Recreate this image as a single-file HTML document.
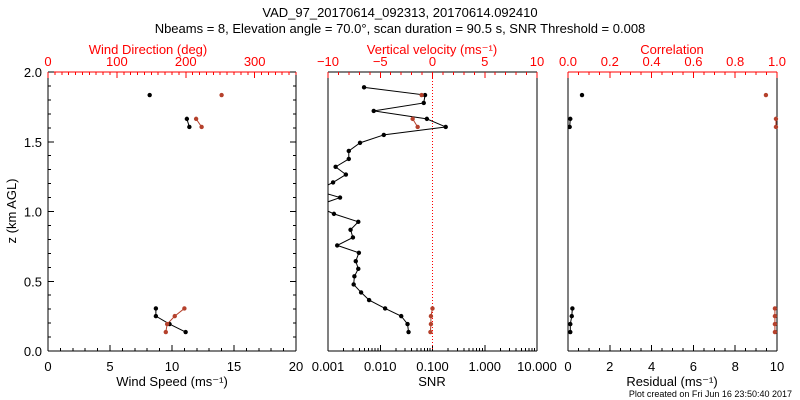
<!DOCTYPE html>
<html><head><meta charset="utf-8"><style>
html,body{margin:0;padding:0;background:#fff;}
svg{display:block;font-family:"Liberation Sans",sans-serif;}
</style></head><body>
<svg id="c" width="800" height="400" viewBox="0 0 800 400" xmlns="http://www.w3.org/2000/svg">
<text x="400" y="17" text-anchor="middle" font-size="13">VAD_97_20170614_092313, 20170614.092410</text>
<text x="400" y="33" text-anchor="middle" font-size="13">Nbeams = 8, Elevation angle = 70.0°, scan duration = 90.5 s, SNR Threshold = 0.008</text>
<text x="792" y="397" text-anchor="end" font-size="9">Plot created on Fri Jun 16 23:50:40 2017</text>
</svg>
<script>
const heights=[0.136,0.193,0.25,0.305,0.365,0.420,0.477,0.535,0.589,0.644,0.704,0.757,0.814,0.869,0.926,0.983,1.04,1.10,1.15,1.208,1.265,1.32,1.377,1.434,1.492,1.549,1.606,1.664,1.721,1.778,1.835,1.89];
const N=null;
const windSpeed=[11.1,9.8,8.7,8.7,N,N,N,N,N,N,N,N,N,N,N,N,N,N,N,N,N,N,N,N,N,N,11.4,11.2,N,N,8.2,N];
const windDir=[171,173,184,198,N,N,N,N,N,N,N,N,N,N,N,N,N,N,N,N,N,N,N,N,N,N,223,215,N,N,252,N];
const snr=[0.0348,0.0333,0.0252,0.0124,0.00612,0.0043,0.0031,0.0032,0.0038,0.0034,0.0039,0.0015,0.003,0.0027,0.0038,0.0013,0.0006,0.0017,0.0006,0.00125,0.0022,0.0014,0.0025,0.0025,0.0041,0.0117,0.179,0.078,0.0075,0.068,0.072,0.0049];
const vertVel=[-0.2,-0.15,-0.15,0,N,N,N,N,N,N,N,N,N,N,N,N,N,N,N,N,N,N,N,N,N,N,-1.42,-1.9,N,N,-1.04,N];
const residual=[0.11,0.11,0.18,0.21,N,N,N,N,N,N,N,N,N,N,N,N,N,N,N,N,N,N,N,N,N,N,0.08,0.11,N,N,0.67,N];
const correlation=[0.99,0.99,0.99,0.99,N,N,N,N,N,N,N,N,N,N,N,N,N,N,N,N,N,N,N,N,N,N,0.995,0.995,N,N,0.947,N];
const zTicks=["0.0","0.5","1.0","1.5","2.0"];

const svg=document.getElementById('c');
const NS="http://www.w3.org/2000/svg";
const Y0=72,Y1=351;
const yS=z=>Y1-(z/2)*(Y1-Y0);
const RED="#ff0000",PT="#b5412c";
function mk(t,a,p){const e=document.createElementNS(NS,t);for(const k in a)e.setAttribute(k,a[k]);(p||svg).appendChild(e);return e;}
function txt(x,y,s,col,anchor,size,name){const e=mk('text',{x:x,y:y,fill:col,'text-anchor':anchor,'font-size':size});e.textContent=s;


return e;}
function line(x1,y1,x2,y2,col,name){const e=mk('line',{x1:x1,y1:y1,x2:x2,y2:y2,stroke:col,'stroke-width':1,'shape-rendering':'crispEdges'});


return e;}

function frame(x0,x1,topRed,name){
  const g=mk('g',{});
  
  
  line(x0,Y1,x1,Y1,'#000','x-axis-line');
  line(x0,Y0,x0,Y1,'#000','left-axis-line');
  line(x1,Y0,x1,Y1,'#000','right-axis-line');
  line(x0,Y0,x1,Y0,topRed?RED:'#000','top-axis-line');
}
function yTicks(x0,x1){
  for(let i=0;i<=20;i++){const z=i*0.1,y=yS(z),L=(i%5==0)?6:3;
    line(x0,y,x0+L,y,'#000','y-tick');line(x1-L,y,x1,y,'#000','y-tick');}
  zTicks.forEach((s,i)=>txt(x0-6,yS(i*0.5)+5,s,'#000','end',13,'y-tick-label'));
}
function linTicks(x0,x1,min,max,minor,major,labels,bottom,col){
  const xs=v=>x0+(v-min)/(max-min)*(x1-x0);
  const n=Math.round((max-min)/minor);
  for(let i=0;i<=n;i++){const v=min+i*minor;const isM=Math.abs(v/major-Math.round(v/major))<1e-6;const L=isM?6:3;const x=xs(v);
    if(bottom)line(x,Y1-L,x,Y1,col,'x-tick');else line(x,Y0,x,Y0+L,col,'top-tick');}
  labels.forEach(s=>{const x=xs(parseFloat(s.replace('−','-')));
    if(bottom)txt(x,371,s,col,'middle',13,'x-tick-label');else txt(x,66,s,col,'middle',13,'top-tick-label');});
  return xs;
}
function series(xs,vals,col,name){
  const g=mk('g',{});
  
  
  let seg=[];const segs=[];
  vals.forEach((v,i)=>{if(v===null){if(seg.length)segs.push(seg);seg=[];}else seg.push([xs(v),yS(heights[i])]);});
  if(seg.length)segs.push(seg);
  segs.forEach(s=>{if(s.length>1){const p=mk('polyline',{points:s.map(q=>q.join(',')).join(' '),fill:'none',stroke:col,'stroke-width':1},g);
    
    }
    s.forEach(q=>{const c=mk('circle',{cx:q[0],cy:q[1],r:2.2,fill:col},g);
      
      });});
  return g;
}

// Panel 1
const A=48,B=296;
frame(A,B,true,'wind-panel');
yTicks(A,B);
const xSpd=linTicks(A,B,0,20,1,5,["0","5","10","15","20"],true,'#000');
const xDir=linTicks(A,B,0,360,10,100,["0","100","200","300"],false,RED);
txt(172,386,'Wind Speed (ms⁻¹)','#000','middle',13,'wind-speed-axis-title');
txt(148,54,'Wind Direction (deg)',RED,'middle',13,'wind-direction-axis-title');
const yt=txt(0,0,'z (km AGL)','#000','middle',13,'y-axis-title');yt.setAttribute('transform','translate(16,211) rotate(-90)');
series(xSpd,windSpeed,'#000','wind-speed-series');
series(xDir,windDir,PT,'wind-direction-series');

// Panel 2
const C=328,D=537;
const clip=mk('clipPath',{id:'cp2'});mk('rect',{x:C,y:Y0,width:D-C,height:Y1-Y0},clip);
frame(C,D,false,'snr-panel');
const xSnr=v=>C+(Math.log10(v)+3)/4*(D-C);
for(let e=-3;e<1;e++)for(let m=1;m<10;m++){const x=xSnr(m*Math.pow(10,e));line(x,Y1-(m==1?6:3),x,Y1,'#000','x-tick');}
line(D,Y1-6,D,Y1,'#000','x-tick');
["0.001","0.010","0.100","1.000","10.000"].forEach(s=>txt(xSnr(parseFloat(s)),371,s,'#000','middle',13,'x-tick-label'));
const xVel=linTicks(C,D,-10,10,1,5,["−10","−5","0","5","10"],false,RED);
txt(432,386,'SNR','#000','middle',13,'snr-axis-title');
txt(432,54,'Vertical velocity (ms⁻¹)',RED,'middle',13,'vertical-velocity-axis-title');
const zl=line(xVel(0),Y0,xVel(0),Y1,RED,'zero-velocity-line');zl.setAttribute('stroke-dasharray','1,2');
const gs=series(xSnr,snr,'#000','snr-series');gs.setAttribute('clip-path','url(#cp2)');
series(xVel,vertVel,PT,'vertical-velocity-series');

// Panel 3
const E=568,F=777;
frame(E,F,true,'residual-panel');
const xRes=linTicks(E,F,0,10,0.5,2,["0","2","4","6","8","10"],true,'#000');
const xCor=linTicks(E,F,0,1,0.05,0.2,["0.0","0.2","0.4","0.6","0.8","1.0"],false,RED);
txt(672,386,'Residual (ms⁻¹)','#000','middle',13,'residual-axis-title');
txt(672,54,'Correlation',RED,'middle',13,'correlation-axis-title');
series(xRes,residual,'#000','residual-series');
series(xCor,correlation,PT,'correlation-series');
</script>
</body></html>
